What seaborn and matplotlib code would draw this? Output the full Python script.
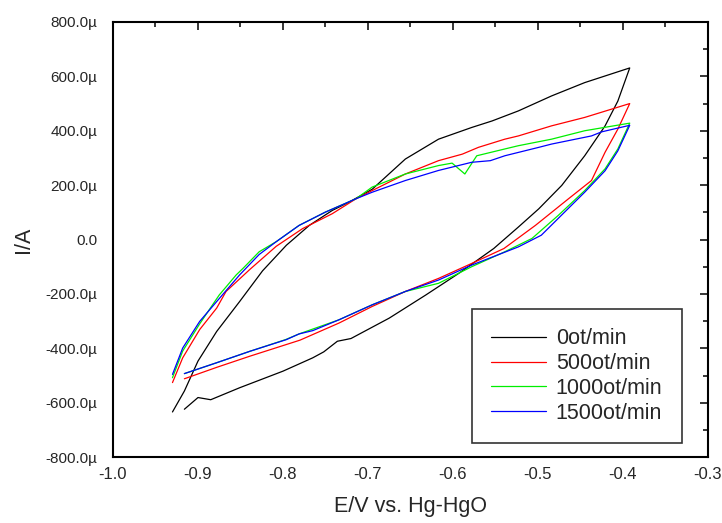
import numpy as np
import pandas as pd
import matplotlib
matplotlib.use("Agg")
import matplotlib.pyplot as plt
import seaborn as sns
from matplotlib.ticker import FuncFormatter, MultipleLocator

# 데이터 (E in V, I in µA) : anodic sweep then cathodic sweep back
e_0 = [-0.930, -0.916, -0.900, -0.878, -0.851, -0.824, -0.796, -0.769, -0.742, -0.722, -0.695,
       -0.656, -0.617, -0.578, -0.566, -0.554, -0.523, -0.484, -0.445, -0.392,
       -0.406, -0.421, -0.445, -0.472, -0.499, -0.523, -0.552, -0.593, -0.632, -0.675,
       -0.720, -0.736, -0.752, -0.765, -0.800, -0.851, -0.885, -0.900, -0.916]
i_0 = [-634, -557, -447, -338, -228, -115, -21, 52, 107, 138, 185,
       296, 369, 412, 424, 436, 473, 528, 577, 631,
       509, 418, 308, 199, 113, 46, -33, -124, -204, -289,
       -364, -374, -413, -435, -484, -545, -589, -581, -624]

e_500 = [-0.930, -0.918, -0.898, -0.878, -0.867, -0.839, -0.808, -0.777, -0.742, -0.714, -0.695,
         -0.656, -0.617, -0.589, -0.570, -0.539, -0.523, -0.484, -0.445, -0.392,
         -0.406, -0.421, -0.437, -0.464, -0.503, -0.540, -0.578, -0.617, -0.656, -0.695,
         -0.734, -0.780, -0.839, -0.878, -0.916]
i_500 = [-526, -435, -331, -252, -191, -110, -25, 40, 95, 150, 180,
         241, 290, 314, 339, 369, 381, 418, 449, 500,
         406, 321, 217, 150, 52, -33, -88, -143, -191, -246,
         -307, -370, -429, -470, -512]

e_1000 = [-0.930, -0.918, -0.898, -0.875, -0.855, -0.847, -0.828, -0.808, -0.781, -0.750, -0.714,
          -0.695, -0.656, -0.617, -0.601, -0.586, -0.572, -0.539, -0.523, -0.484, -0.445, -0.392,
          -0.406, -0.421, -0.445, -0.476, -0.507, -0.539, -0.578, -0.617, -0.656, -0.695,
          -0.734, -0.781, -0.797, -0.839, -0.878, -0.916]
i_1000 = [-508, -410, -310, -204, -130, -106, -45, -8, 52, 101, 150,
          193, 241, 272, 281, 241, 308, 333, 345, 369, 400, 428,
          333, 260, 180, 89, 4, -45, -100, -161, -191, -240,
          -295, -347, -368, -411, -453, -493]

e_1500 = [-0.930, -0.918, -0.898, -0.878, -0.851, -0.828, -0.808, -0.781, -0.750, -0.714,
          -0.695, -0.656, -0.617, -0.578, -0.556, -0.539, -0.499, -0.484, -0.437, -0.425, -0.392,
          -0.406, -0.421, -0.445, -0.496, -0.523, -0.578, -0.617, -0.656, -0.695,
          -0.734, -0.765, -0.781, -0.796, -0.839, -0.878, -0.916]
i_1500 = [-496, -399, -301, -228, -130, -55, -8, 52, 101, 150,
          174, 217, 254, 284, 290, 308, 339, 351, 381, 396, 420,
          326, 253, 174, 16, -27, -94, -149, -191, -240,
          -295, -335, -347, -368, -411, -453, -493]

labels = ['0ot/min', '500ot/min', '1000ot/min', '1500ot/min']
colors = ['#000000', '#ff0000', '#00ee00', '#0000ff']

frames = []
for lab, e, i in zip(labels, [e_0, e_500, e_1000, e_1500], [i_0, i_500, i_1000, i_1500]):
    frames.append(pd.DataFrame({'E': e, 'I': np.array(i) * 1e-6, 'speed': lab}))
df = pd.concat(frames, ignore_index=True)

sns.set_style("white")
plt.rcParams['font.family'] = ['Liberation Sans', 'DejaVu Sans']
plt.rcParams['axes.unicode_minus'] = False

fig = plt.figure(figsize=(7.22, 5.23), dpi=100)
ax = fig.add_axes([0.1565, 0.126, 0.824, 0.832])

sns.lineplot(data=df, x='E', y='I', hue='speed', units='speed', estimator=None, sort=False,
             palette=dict(zip(labels, colors)), hue_order=labels, linewidth=0.9, ax=ax)

ax.set_xlim(-1.0, -0.3)
ax.set_ylim(-800e-6, 800e-6)
ax.xaxis.set_major_locator(MultipleLocator(0.1))
ax.xaxis.set_minor_locator(MultipleLocator(0.05))
ax.yaxis.set_major_locator(MultipleLocator(200e-6))
ax.yaxis.set_minor_locator(MultipleLocator(100e-6))


def fmt_y(v, pos):
    if abs(v) < 1e-9:
        return '0.0'
    return f'{v * 1e6:.1f}\u00b5'


ax.yaxis.set_major_formatter(FuncFormatter(fmt_y))
ax.xaxis.set_major_formatter(FuncFormatter(lambda v, p: f'{v:.1f}'))

ax.tick_params(which='both', direction='in', top=True, right=True, width=1.3)
ax.tick_params(which='major', length=6)
ax.tick_params(which='minor', length=3.5)
ax.tick_params(axis='y', labelsize=11, pad=11.5)
ax.tick_params(axis='x', labelsize=12, pad=7)
for s in ax.spines.values():
    s.set_linewidth(1.5)
    s.set_color('black')

ax.set_xlabel('E/V vs. Hg-HgO', fontsize=15.5, labelpad=10)
ax.set_ylabel('I/A', fontsize=15.5, labelpad=8)

leg = ax.legend(loc='lower right', bbox_to_anchor=(0.956, 0.032), borderaxespad=0,
                fontsize=15.5, frameon=True, fancybox=False, edgecolor='black',
                handlelength=2.55, borderpad=0.9, labelspacing=0.18, handletextpad=0.45)
leg.get_frame().set_linewidth(1.2)

fig.savefig('out.png', dpi=100)
